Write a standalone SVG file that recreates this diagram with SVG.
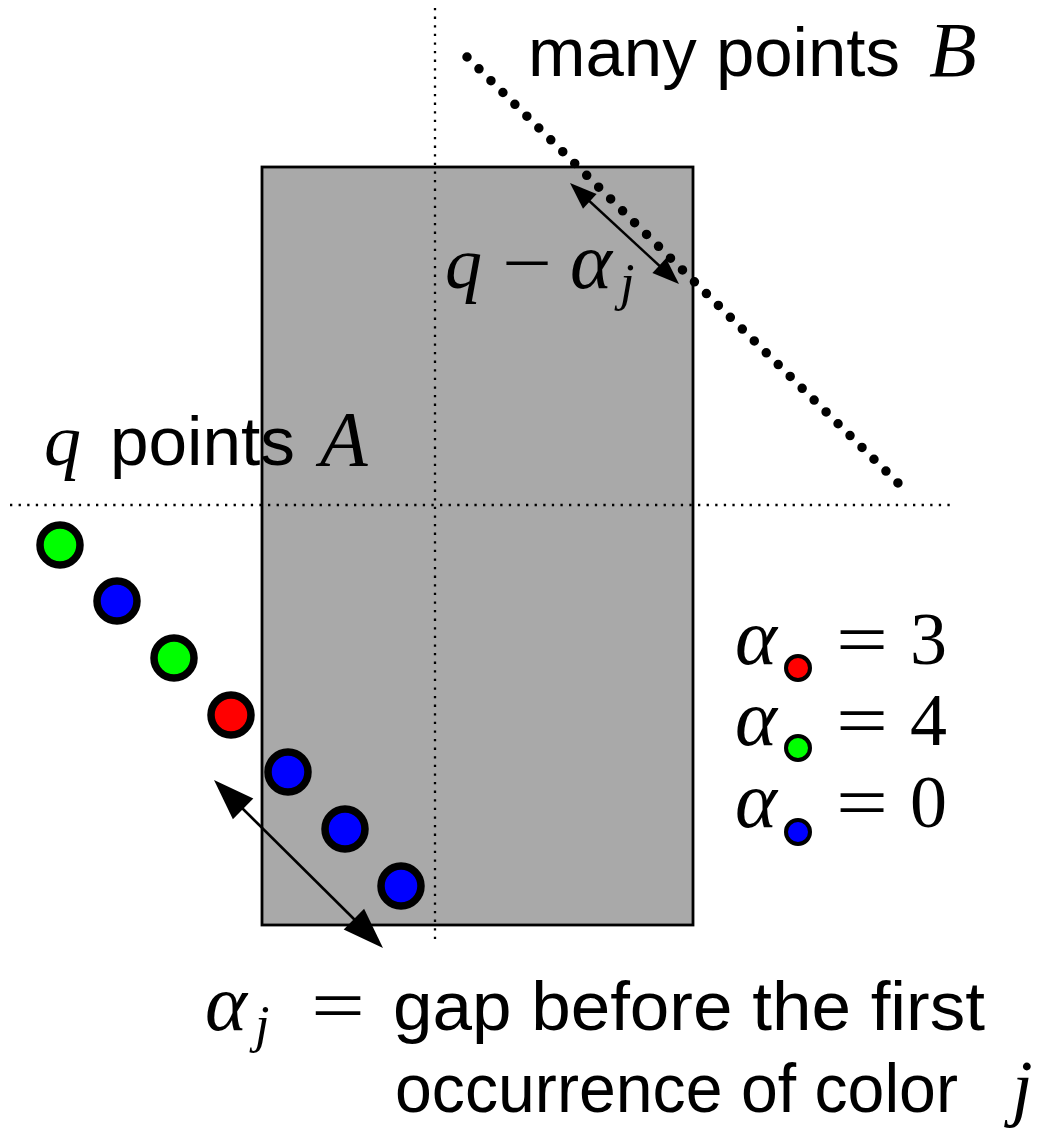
<svg xmlns="http://www.w3.org/2000/svg" width="1043" height="1134" viewBox="0 0 1043 1134">
  <style>
    .sans { font-family: "Liberation Sans", Arial, sans-serif; font-size: 69px; fill: #000; }
    .math { font-family: "Liberation Serif", "Times New Roman", serif; font-style: italic; font-size: 74px; fill: #000; }
    .greek { font-family: "Liberation Serif", "Times New Roman", serif; font-style: italic; font-size: 80px; fill: #000; }
    .cap { font-family: "Liberation Serif", "Times New Roman", serif; font-style: italic; font-size: 78px; fill: #000; }
    .rm { font-family: "Liberation Serif", "Times New Roman", serif; font-size: 74px; fill: #000; }
    .sub { font-family: "Liberation Serif", "Times New Roman", serif; font-style: italic; font-size: 52px; fill: #000; }
    .guide { fill: none; stroke: #000; stroke-width: 2.3; stroke-dasharray: 2.3 6.3; }
    .pt { stroke: #000; stroke-width: 7.5; }
    .lg { stroke: #000; stroke-width: 4; }
    .red { fill: #ff0000; }
    .green { fill: #00ff00; }
    .blue { fill: #0000ff; }
    .arrowline { fill: none; stroke: #000; }
  </style>

  <g id="region">
    <rect x="262" y="167" width="431" height="758" fill="#a9a9a9" stroke="#000" stroke-width="2.8"/>
  </g>

  <g id="guides">
    <line class="guide" x1="435" y1="8" x2="435" y2="942"/>
    <line class="guide" x1="10" y1="505" x2="955" y2="505"/>
  </g>

  <g id="points-B">
    <path d="M467,57 L898,483" fill="none" stroke="#000" stroke-width="9.5" stroke-linecap="round" stroke-dasharray="0 16.83"/>
  </g>

  <g id="points-A">
    <circle class="pt green" cx="60" cy="545" r="20"/>
    <circle class="pt blue" cx="117" cy="601" r="20"/>
    <circle class="pt green" cx="174" cy="658" r="20"/>
    <circle class="pt red" cx="231" cy="715" r="20"/>
    <circle class="pt blue" cx="288" cy="772" r="20"/>
    <circle class="pt blue" cx="345" cy="829" r="20"/>
    <circle class="pt blue" cx="401" cy="886" r="20"/>
  </g>

  <g id="connectors">
    <g id="arrow-q-minus-alpha">
      <line class="arrowline" x1="585" y1="197" x2="664" y2="270" stroke-width="2.4"/>
      <polygon points="570,183 583,208.7 596.6,194.1"/>
      <polygon points="679,284 652.4,272.9 666,258.3"/>
    </g>
    <g id="arrow-alpha-j">
      <line class="arrowline" x1="235" y1="801" x2="362" y2="927" stroke-width="2.6"/>
      <polygon points="214,780 232.9,819.2 253.3,798.6"/>
      <polygon points="383,948 343.7,929.4 364.1,908.8"/>
    </g>
  </g>

  <g id="label-B">
    <text class="sans" x="528" y="76" textLength="372" lengthAdjust="spacingAndGlyphs">many points</text>
    <text class="cap" x="929" y="76">B</text>
  </g>

  <g id="label-gap">
    <text class="math" x="445" y="288">q</text>
    <text class="rm" x="502" y="288" textLength="50" lengthAdjust="spacingAndGlyphs">−</text>
    <text class="greek" x="570" y="288">α</text>
    <text class="sub" x="620" y="300">j</text>
  </g>

  <g id="label-A">
    <text class="math" x="44" y="465">q</text>
    <text class="sans" x="110" y="465" textLength="185" lengthAdjust="spacingAndGlyphs">points</text>
    <text class="cap" x="320" y="465">A</text>
  </g>

  <g id="legend">
    <text class="greek" x="735" y="664">α</text>
    <circle class="lg red" cx="798" cy="668" r="12"/>
    <text class="rm" x="836" y="664" textLength="52" lengthAdjust="spacingAndGlyphs">=</text>
    <text class="rm" x="910" y="664">3</text>

    <text class="greek" x="735" y="745">α</text>
    <circle class="lg green" cx="798" cy="748" r="12"/>
    <text class="rm" x="836" y="745" textLength="52" lengthAdjust="spacingAndGlyphs">=</text>
    <text class="rm" x="910" y="745">4</text>

    <text class="greek" x="735" y="827">α</text>
    <circle class="lg blue" cx="798" cy="832" r="12"/>
    <text class="rm" x="836" y="827" textLength="52" lengthAdjust="spacingAndGlyphs">=</text>
    <text class="rm" x="910" y="827">0</text>
  </g>

  <g id="caption">
    <text class="greek" x="205" y="1030">α</text>
    <text class="sub" x="255" y="1042">j</text>
    <text class="rm" x="311" y="1030" textLength="54" lengthAdjust="spacingAndGlyphs">=</text>
    <text class="sans" x="393" y="1030" textLength="592" lengthAdjust="spacingAndGlyphs">gap before the first</text>
    <text class="sans" x="395" y="1112" textLength="563" lengthAdjust="spacingAndGlyphs">occurrence of color</text>
    <text class="math" x="1012" y="1112">j</text>
  </g>
</svg>
